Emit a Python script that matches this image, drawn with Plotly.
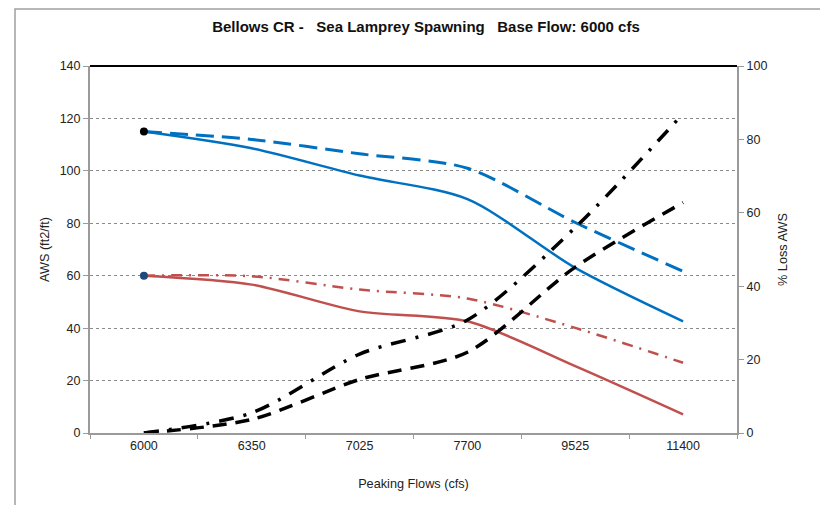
import plotly.graph_objects as go

flows = ["6000", "6350", "7025", "7700", "9525", "11400"]
aws_solid_blue = [115, 108.6, 98.2, 89.2, 63.0, 42.6]
aws_dash_blue = [115, 112.0, 106.5, 101.0, 80.3, 61.7]
aws_solid_red = [60, 56.6, 46.4, 42.6, 25.5, 7.1]
aws_dashdot_red = [60, 59.8, 54.7, 51.3, 40.1, 26.8]
loss_dash_black = [0, 3.7, 14.6, 22.0, 45.2, 62.8]
loss_dashdot_black = [0, 5.5, 21.5, 30.8, 56.0, 87.0]

BLUE = "#0070C0"
RED = "#C0504D"
GRAY = "#9a9a9a"
FONT = "Liberation Sans, Arial, sans-serif"

L, R, T, B = 82, 99, 58, 80
W, H = 828, 505
PW, PH = W - L - R, H - T - B

fig = go.Figure()

fig.add_trace(go.Scatter(x=flows, y=aws_dash_blue, mode="lines",
                         line=dict(color=BLUE, width=3, dash="18px,8px", shape="spline", smoothing=0.8),
                         showlegend=False))
fig.add_trace(go.Scatter(x=flows, y=aws_solid_blue, mode="lines",
                         line=dict(color=BLUE, width=2.5, shape="spline", smoothing=0.8),
                         showlegend=False))
fig.add_trace(go.Scatter(x=flows, y=aws_dashdot_red, mode="lines",
                         line=dict(color=RED, width=2.5, dash="11px,7px,2px,7px", shape="spline", smoothing=0.8),
                         showlegend=False))
fig.add_trace(go.Scatter(x=flows, y=aws_solid_red, mode="lines",
                         line=dict(color=RED, width=2.5, shape="spline", smoothing=0.8),
                         showlegend=False))
fig.add_trace(go.Scatter(x=flows, y=loss_dash_black, mode="lines", yaxis="y2",
                         line=dict(color="black", width=3.5, dash="14px,9px", shape="spline", smoothing=0.8),
                         showlegend=False))
fig.add_trace(go.Scatter(x=flows, y=loss_dashdot_black, mode="lines", yaxis="y2",
                         line=dict(color="black", width=3.5, dash="15px,10px,3px,10px", shape="spline", smoothing=0.8),
                         showlegend=False))
# start markers
fig.add_trace(go.Scatter(x=flows[:1], y=aws_solid_blue[:1], mode="markers",
                         marker=dict(color="black", size=8), showlegend=False))
fig.add_trace(go.Scatter(x=flows[:1], y=aws_solid_red[:1], mode="markers",
                         marker=dict(color="#1F497D", size=8), showlegend=False))

fig.update_layout(
    width=W, height=H,
    margin=dict(l=L, r=R, t=T, b=B),
    paper_bgcolor="white", plot_bgcolor="white",
    font=dict(family=FONT, size=12.5, color="#222"),
    title=dict(text="Bellows CR -\u00a0\u00a0\u00a0Sea Lamprey Spawning\u00a0\u00a0\u00a0Base Flow: 6000 cfs",
               x=(418 - L) / PW, xref="paper", xanchor="center", y=1 - 19 / H, yanchor="middle",
               font=dict(family=FONT, size=15, color="#111", weight="bold")),
    xaxis=dict(type="category", range=[-0.5, 5.5], showline=True, linecolor=GRAY, linewidth=2,
               ticks="outside", tickson="boundaries", ticklen=4, tickcolor=GRAY, tickwidth=1,
               showgrid=False, zeroline=False, tickfont=dict(size=12.5),
               title=dict(text="Peaking Flows (cfs)", standoff=27, font=dict(size=12.7))),
    yaxis=dict(range=[0, 140], dtick=20, showline=True, linecolor=GRAY, linewidth=2,
               ticks="outside", ticklen=5, tickcolor=GRAY, tickwidth=1, tickfont=dict(size=12.5),
               showgrid=True, gridcolor="#8a8a8a", griddash="dot", gridwidth=1, zeroline=False,
               title=dict(text="AWS (ft2/ft)", standoff=7, font=dict(size=12.7))),
    yaxis2=dict(range=[0, 100], dtick=20, overlaying="y", side="right", showline=True,
                linecolor=GRAY, linewidth=2, ticks="outside", ticklen=5, tickcolor=GRAY, tickwidth=1,
                showgrid=False, zeroline=False, tickfont=dict(size=12.5),
                title=dict(text="% Loss AWS", standoff=12, font=dict(size=12.7))),
    shapes=[
        dict(type="line", xref="paper", yref="paper", x0=0, x1=1, y0=1, y1=1,
             line=dict(color="black", width=2)),
        dict(type="rect", xref="paper", yref="paper",
             x0=(7 - L) / PW, x1=1.3, y0=-0.4, y1=1 + (T - 1) / PH,
             line=dict(color="#a0a0a0", width=1.5), layer="below"),
    ],
)

fig.write_html("out.html")
